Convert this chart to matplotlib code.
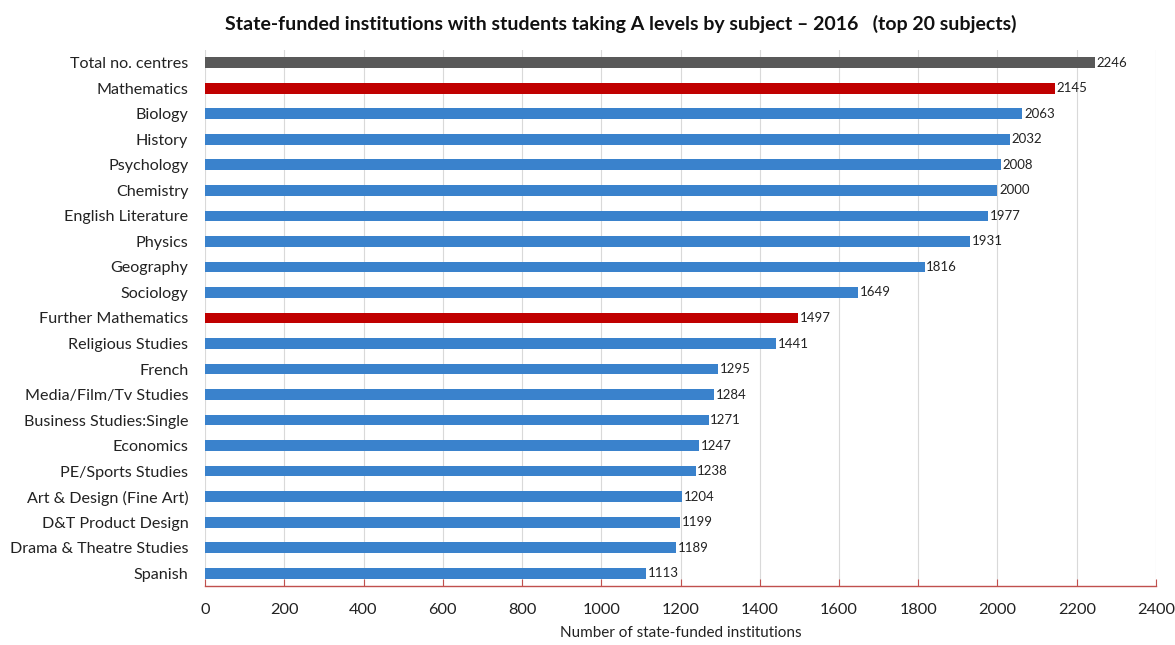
import matplotlib
matplotlib.use("Agg")
import matplotlib.pyplot as plt
import numpy as np

categories = ["Total no. centres", "Mathematics", "Biology", "History", "Psychology",
              "Chemistry", "English Literature", "Physics", "Geography", "Sociology",
              "Further Mathematics", "Religious Studies", "French", "Media/Film/Tv Studies",
              "Business Studies:Single", "Economics", "PE/Sports Studies",
              "Art & Design (Fine Art)", "D&T Product Design", "Drama & Theatre Studies", "Spanish"]
values = [2246, 2145, 2063, 2032, 2008, 2000, 1977, 1931, 1816, 1649,
          1497, 1441, 1295, 1284, 1271, 1247, 1238, 1204, 1199, 1189, 1113]
xticks = list(range(0, 2401, 200))

def color_for(name):
    if name == "Total no. centres":
        return "#595959"
    if name in ("Mathematics", "Further Mathematics"):
        return "#c00000"
    return "#3a82cc"

plt.rcParams['font.family'] = ['Lato', 'DejaVu Sans']
fig = plt.figure(figsize=(11.75, 6.45), dpi=100)
ax = fig.add_axes([0.1745, 0.0915, 0.8093, 0.831])

y = np.arange(len(categories))
colors = [color_for(c) for c in categories]
ax.barh(y, values, height=0.42, color=colors, zorder=3)
for yi, v in zip(y, values):
    ax.text(v + 4, yi, str(v), va='center', ha='left', fontsize=9.5, color='#222222', zorder=4)

ax.set_ylim(len(categories) - 0.5, -0.5)
ax.set_xlim(0, 2400)
ax.set_yticks(y)
ax.set_yticklabels(categories, fontsize=11.6, color='#222222')
ax.set_xticks(xticks)
ax.set_xticklabels([str(t) for t in xticks], fontsize=11.8, color='#222222')
ax.tick_params(axis='y', length=0, pad=12)
ax.tick_params(axis='x', length=5, color='#c0504d', direction='in', pad=12)
ax.xaxis.grid(True, color='#d9d9d9', linewidth=0.8, zorder=0)
for s in ['top', 'right', 'left']:
    ax.spines[s].set_visible(False)
ax.spines['bottom'].set_color('#c0504d')
ax.spines['bottom'].set_linewidth(1.0)
ax.set_xlabel("Number of state-funded institutions", fontsize=11, color='#222222', labelpad=7)
fig.text(0.5285, 0.963, "State-funded institutions with students taking A levels by subject \u2013 2016   (top 20 subjects)",
         ha='center', va='center', fontsize=14, fontweight='bold', color='#111111')
fig.savefig("out.png", dpi=100)
